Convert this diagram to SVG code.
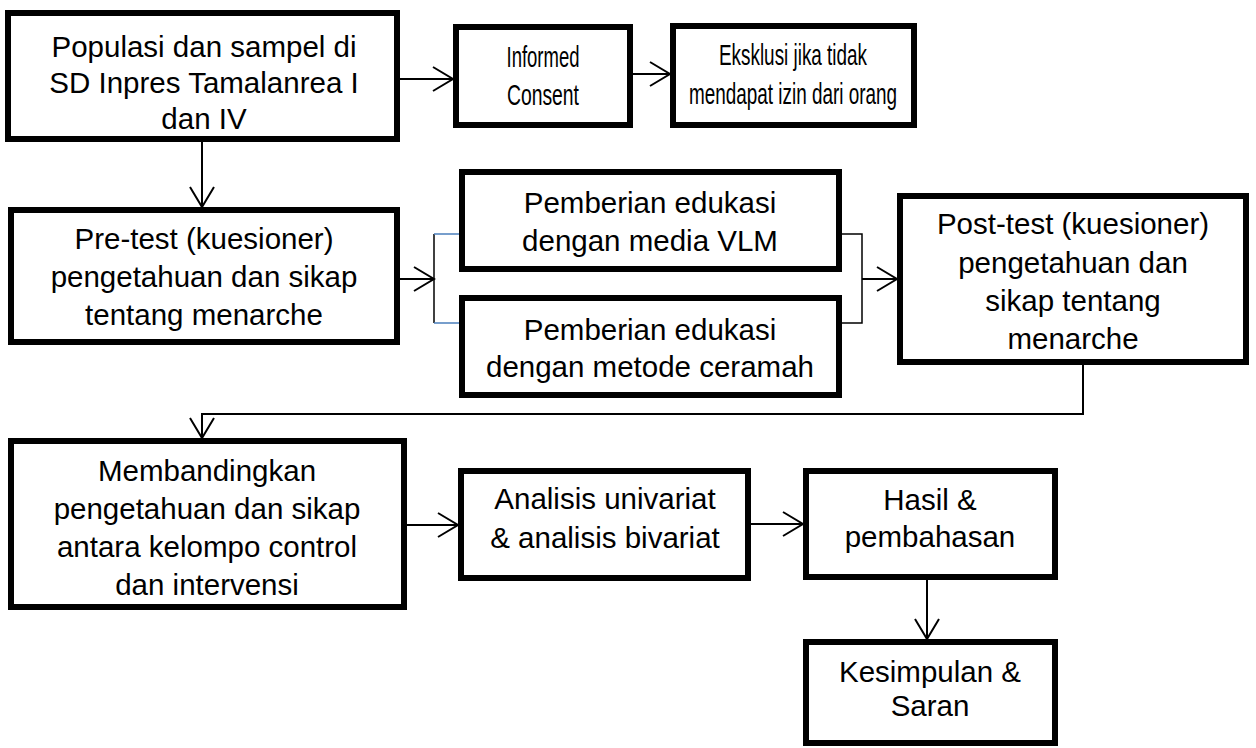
<svg xmlns="http://www.w3.org/2000/svg" width="1256" height="748" viewBox="0 0 1256 748">
<style>
.box{fill:#fff;stroke:#000;stroke-width:6}
.t{font-family:"Liberation Sans",Arial,sans-serif;font-size:29.5px;fill:#000;text-anchor:middle}
.n{font-family:"Liberation Sans",Arial,sans-serif;font-size:30px;fill:#000;text-anchor:middle}
.c{fill:none;stroke:#000;stroke-width:2}
.b{fill:none;stroke:#000;stroke-width:1.5}
.bl{fill:none;stroke:#4a7ebb;stroke-width:1.5}
</style>
<defs>
<marker id="ah" markerUnits="userSpaceOnUse" markerWidth="24" markerHeight="28" refX="21" refY="13" orient="auto">
<path d="M1,1 L21,13 L1,25" fill="none" stroke="#000" stroke-width="2"/>
</marker>
</defs>
<rect width="1256" height="748" fill="#fff"/>
<g id="connectors">
<line class="c" x1="400" y1="79" x2="453" y2="79" marker-end="url(#ah)"/>
<line class="c" x1="633" y1="74" x2="670" y2="74" marker-end="url(#ah)"/>
<line class="c" x1="202" y1="142" x2="202" y2="207" marker-end="url(#ah)"/>
<line class="c" x1="400" y1="279" x2="434" y2="279" marker-end="url(#ah)"/>
<line class="b" x1="434" y1="234" x2="434" y2="323"/>
<line class="bl" x1="434" y1="234" x2="459" y2="234"/>
<line class="bl" x1="434" y1="323" x2="459" y2="323"/>
<polyline class="b" points="842,234 862,234 862,323 842,323"/>
<line class="c" x1="862" y1="279" x2="897" y2="279" marker-end="url(#ah)"/>
<polyline class="c" points="1083,365 1083,414 202,414 202,438" marker-end="url(#ah)"/>
<line class="c" x1="407" y1="525" x2="458" y2="525" marker-end="url(#ah)"/>
<line class="c" x1="751" y1="524" x2="803" y2="524" marker-end="url(#ah)"/>
<line class="c" x1="927" y1="580" x2="927" y2="639" marker-end="url(#ah)"/>
</g>
<g id="populasi">
<rect class="box" x="8" y="13" width="389" height="126"/>
<text class="t" x="204" y="57">Populasi dan sampel di</text>
<text class="t" x="204" y="93">SD Inpres Tamalanrea I</text>
<text class="t" x="204" y="129">dan IV</text>
</g>
<g id="informed">
<rect class="box" x="456" y="27" width="174" height="98"/>
<text class="n" x="543" y="67" textLength="73" lengthAdjust="spacingAndGlyphs">Informed</text>
<text class="n" x="543" y="105" textLength="72" lengthAdjust="spacingAndGlyphs">Consent</text>
</g>
<g id="eksklusi">
<rect class="box" x="673" y="26" width="241" height="99"/>
<text class="n" x="793" y="65" textLength="148" lengthAdjust="spacingAndGlyphs">Eksklusi jika tidak</text>
<text class="n" x="793" y="104" textLength="208" lengthAdjust="spacingAndGlyphs">mendapat izin dari orang</text>
</g>
<g id="pretest">
<rect class="box" x="11" y="210" width="386" height="132"/>
<text class="t" x="204" y="249">Pre-test (kuesioner)</text>
<text class="t" x="204" y="287">pengetahuan dan sikap</text>
<text class="t" x="204" y="325">tentang menarche</text>
</g>
<g id="vlm">
<rect class="box" x="462" y="172" width="377" height="97"/>
<text class="t" x="650" y="213">Pemberian edukasi</text>
<text class="t" x="650" y="251">dengan media VLM</text>
</g>
<g id="ceramah">
<rect class="box" x="462" y="298" width="377" height="97"/>
<text class="t" x="650" y="340">Pemberian edukasi</text>
<text class="t" x="650" y="377">dengan metode ceramah</text>
</g>
<g id="posttest">
<rect class="box" x="900" y="196" width="346" height="166"/>
<text class="t" x="1073" y="234">Post-test (kuesioner)</text>
<text class="t" x="1073" y="273">pengetahuan dan</text>
<text class="t" x="1073" y="311">sikap tentang</text>
<text class="t" x="1073" y="349">menarche</text>
</g>
<g id="membandingkan">
<rect class="box" x="11" y="441" width="393" height="166"/>
<text class="t" x="207" y="481">Membandingkan</text>
<text class="t" x="207" y="519">pengetahuan dan sikap</text>
<text class="t" x="207" y="557">antara kelompo control</text>
<text class="t" x="207" y="595">dan intervensi</text>
</g>
<g id="analisis">
<rect class="box" x="461" y="471" width="287" height="107"/>
<text class="t" x="605" y="509">Analisis univariat</text>
<text class="t" x="605" y="548">&amp; analisis bivariat</text>
</g>
<g id="hasil">
<rect class="box" x="806" y="471" width="249" height="106"/>
<text class="t" x="930" y="510">Hasil &amp;</text>
<text class="t" x="930" y="547">pembahasan</text>
</g>
<g id="kesimpulan">
<rect class="box" x="806" y="642" width="249" height="101"/>
<text class="t" x="930" y="682">Kesimpulan &amp;</text>
<text class="t" x="930" y="716">Saran</text>
</g>
</svg>
